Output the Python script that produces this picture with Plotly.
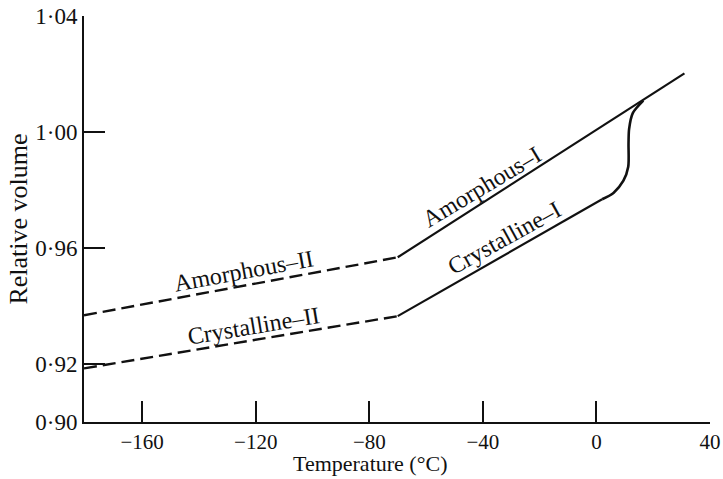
import plotly.graph_objects as go

# Data
amorph_II_T = [-180.5, -70]
amorph_II_V = [0.9368, 0.9568]
amorph_I_T = [-70, 31]
amorph_I_V = [0.9568, 1.0202]
cryst_II_T = [-180.5, -70]
cryst_II_V = [0.9185, 0.9365]
cryst_I_T = [-70, 2]
cryst_I_V = [0.9365, 0.9768]
melt_T = [2, 6, 9.5, 11.2, 11.3, 11.5, 12.8, 16.5]
melt_V = [0.9768, 0.9790, 0.9832, 0.9880, 0.9960, 1.0010, 1.0065, 1.0108]

x_ticks = [-160, -120, -80, -40, 0, 40]
x_labels = ["\u2212160", "\u2212120", "\u221280", "\u221240", "0", "40"]
y_ticks = [0.90, 0.92, 0.96, 1.00, 1.04]
y_labels = ["0\u00b790", "0\u00b792", "0\u00b796", "1\u00b700", "1\u00b704"]

labels = [
    ("Amorphous\u2013I", -40.5, 0.9812, -31),
    ("Crystalline\u2013I", -32.4, 0.9633, -29),
    ("Amorphous\u2013II", -124.3, 0.9522, -10.5),
    ("Crystalline\u2013II", -120.8, 0.9332, -9.5),
]

FONT = "Liberation Serif"
K = "#111111"

fig = go.Figure()
dash = "13px,6px"
fig.add_trace(go.Scatter(x=amorph_II_T, y=amorph_II_V, mode="lines",
                         line=dict(color=K, width=2.4, dash=dash), hoverinfo="skip"))
fig.add_trace(go.Scatter(x=cryst_II_T, y=cryst_II_V, mode="lines",
                         line=dict(color=K, width=2.4, dash=dash), hoverinfo="skip"))
fig.add_trace(go.Scatter(x=amorph_I_T, y=amorph_I_V, mode="lines",
                         line=dict(color=K, width=2.2), hoverinfo="skip"))
fig.add_trace(go.Scatter(x=cryst_I_T, y=cryst_I_V, mode="lines",
                         line=dict(color=K, width=2.2), hoverinfo="skip"))
fig.add_trace(go.Scatter(x=melt_T, y=melt_V, mode="lines",
                         line=dict(color=K, width=2.6, shape="spline", smoothing=0.8),
                         hoverinfo="skip"))

for text, x, y, ang in labels:
    fig.add_annotation(x=x, y=y, text=text, showarrow=False, textangle=ang,
                       font=dict(family=FONT, size=24, color=K))

# x-axis title (placed slightly left of centre, as in the reference)
fig.add_annotation(x=0.457, y=-0.1355, xref="paper", yref="paper",
                   xanchor="center", yanchor="bottom", showarrow=False, borderpad=0,
                   text="Temperature (\u00b0C)", font=dict(family=FONT, size=22, color=K))

fig.update_layout(
    width=723, height=479,
    margin=dict(l=84, r=13, t=16, b=57),
    paper_bgcolor="white", plot_bgcolor="white",
    showlegend=False,
    font=dict(family=FONT, color=K),
    xaxis=dict(range=[-180.5, 40], tickvals=x_ticks, ticktext=x_labels, automargin=False,
               ticks="inside", ticklen=21, tickwidth=1.5, tickcolor=K,
               showline=True, linecolor=K, linewidth=1.8, showgrid=False, zeroline=False,
               tickfont=dict(family=FONT, size=21, color=K)),
    yaxis=dict(range=[0.90, 1.04], tickvals=y_ticks, ticktext=y_labels, automargin=False,
               ticks="inside", ticklen=21, tickwidth=1.5, tickcolor=K,
               showline=True, linecolor=K, linewidth=1.8, showgrid=False, zeroline=False,
               tickfont=dict(family=FONT, size=23, color=K),
               title=dict(text="Relative volume", font=dict(family=FONT, size=26, color=K),
                          standoff=0)),
)

fig.write_html("out.html")
